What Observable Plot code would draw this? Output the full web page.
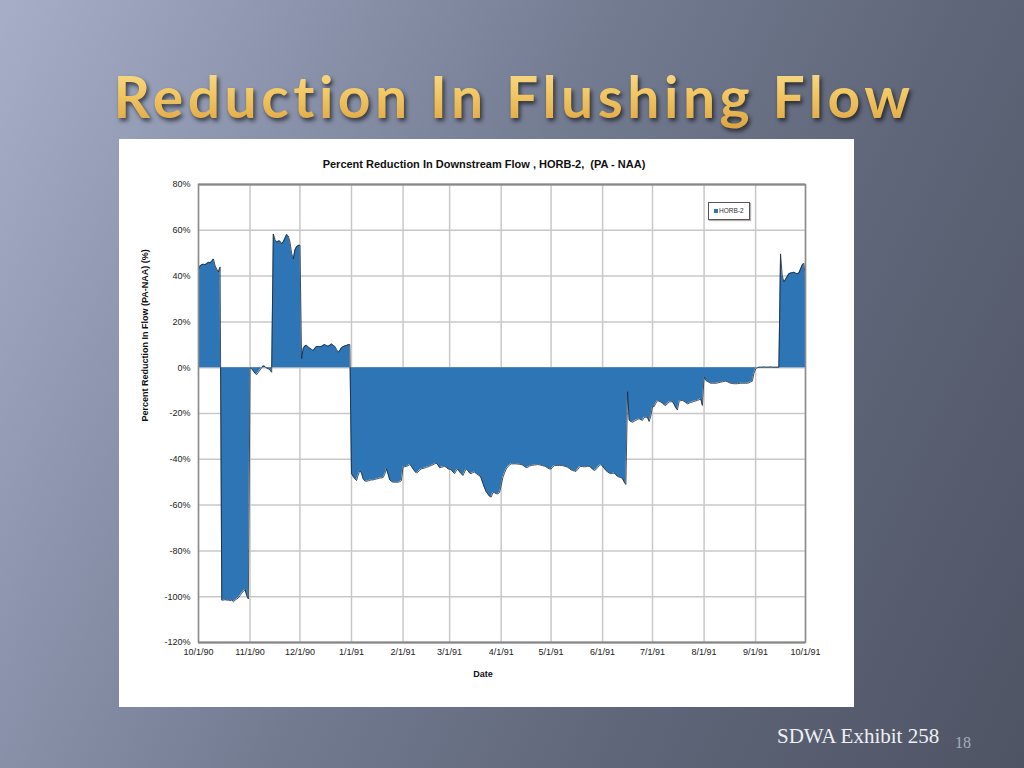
<!DOCTYPE html>
<html>
<head>
<meta charset="utf-8">
<script src="https://cdn.jsdelivr.net/npm/d3@7"></script>
<script src="https://cdn.jsdelivr.net/npm/@observablehq/plot@0.6"></script>
<style>
html,body{margin:0;padding:0;width:1024px;height:768px;overflow:hidden;}
body{position:relative;font-family:"Liberation Sans",Arial,sans-serif;
  background:linear-gradient(115deg,#a6afc7 0%,#8c95ad 22%,#737b91 45%,#5f6679 70%,#4e5464 100%);}
.ttl{position:absolute;left:0;top:61px;width:1024px;text-align:center;font-family:Lato,"Open Sans",sans-serif;
  font-size:57px;font-weight:bold;letter-spacing:4.5px;line-height:70px;text-indent:4px;}
#titleShadow{color:rgba(0,0,0,0);text-shadow:2px 3px 4px rgba(0,0,0,0.6);}
#title{background:linear-gradient(180deg,#f9e19a 0%,#f2c865 45%,#dca23f 100%);background-size:100% 70px;
  -webkit-background-clip:text;background-clip:text;color:transparent;}
#panel{position:absolute;left:119px;top:139px;width:735px;height:568px;background:#fff;}
#ctitle{position:absolute;left:0;top:18px;width:730px;text-align:center;font-weight:bold;font-size:11px;color:#111;line-height:14px;}
#chart{position:absolute;left:0;top:35px;}
#legend{position:absolute;left:589px;top:63px;width:40px;height:16px;border:1.5px solid #555;background:#fff;
  box-shadow:1px 1px 1px rgba(0,0,0,0.3);font-size:6.5px;color:#333;line-height:16px;}
#legend span.sw{display:inline-block;width:4px;height:4px;background:#2e75b6;margin:0 1px 0 5px;vertical-align:middle;}
#footer{position:absolute;left:777px;top:724px;font-family:"Liberation Serif","DejaVu Serif",serif;font-size:21px;color:#eef0f4;}
#page{position:absolute;left:955px;top:734px;font-family:"Liberation Serif","DejaVu Serif",serif;font-size:16px;color:#a7adba;}
</style>
</head>
<body>
<div id="titleShadow" class="ttl" aria-hidden="true">Reduction In Flushing Flow</div>
<div id="title" class="ttl">Reduction In Flushing Flow</div>
<div id="panel">
  <div id="ctitle">Percent Reduction In Downstream Flow , HORB-2,&nbsp; (PA - NAA)</div>
  <div id="chart"></div>
  <div id="legend"><span class="sw"></span>HORB-2</div>
</div>
<div id="footer">SDWA Exhibit 258</div>
<div id="page">18</div>
<script>
const seriesName = "HORB-2";
const yTickValues = [-120, -100, -80, -60, -40, -20, 0, 20, 40, 60, 80];
const xTickDates = ["1990-10-01","1990-11-01","1990-12-01","1991-01-01","1991-02-01","1991-03-01","1991-04-01",
  "1991-05-01","1991-06-01","1991-07-01","1991-08-01","1991-09-01","1991-10-01"];

const dates = [
"1990-10-01","1990-10-02","1990-10-03","1990-10-04","1990-10-05","1990-10-06","1990-10-07","1990-10-08","1990-10-09","1990-10-10",
"1990-10-11","1990-10-12","1990-10-13","1990-10-14","1990-10-15","1990-10-16","1990-10-17","1990-10-18","1990-10-19","1990-10-20",
"1990-10-21","1990-10-22","1990-10-23","1990-10-24","1990-10-25","1990-10-26","1990-10-27","1990-10-28","1990-10-29","1990-10-30","1990-10-31",
"1990-11-01","1990-11-02","1990-11-03","1990-11-04","1990-11-05","1990-11-06","1990-11-07","1990-11-08","1990-11-09","1990-11-10",
"1990-11-11","1990-11-12","1990-11-13","1990-11-14","1990-11-15","1990-11-16","1990-11-17","1990-11-18","1990-11-19","1990-11-20",
"1990-11-21","1990-11-22","1990-11-23","1990-11-24","1990-11-25","1990-11-26","1990-11-27","1990-11-28","1990-11-29","1990-11-30",
"1990-12-01","1990-12-02","1990-12-03","1990-12-04","1990-12-05","1990-12-06","1990-12-07","1990-12-08","1990-12-09","1990-12-10",
"1990-12-11","1990-12-12","1990-12-13","1990-12-14","1990-12-15","1990-12-16","1990-12-17","1990-12-18","1990-12-19","1990-12-20",
"1990-12-21","1990-12-22","1990-12-23","1990-12-24","1990-12-25","1990-12-26","1990-12-27","1990-12-28","1990-12-29","1990-12-30","1990-12-31",
"1991-01-01","1991-01-02","1991-01-03","1991-01-04","1991-01-05","1991-01-06","1991-01-07","1991-01-08","1991-01-09","1991-01-10",
"1991-01-11","1991-01-12","1991-01-13","1991-01-14","1991-01-15","1991-01-16","1991-01-17","1991-01-18","1991-01-19","1991-01-20",
"1991-01-21","1991-01-22","1991-01-23","1991-01-24","1991-01-25","1991-01-26","1991-01-27","1991-01-28","1991-01-29","1991-01-30","1991-01-31",
"1991-02-01","1991-02-02","1991-02-03","1991-02-04","1991-02-05","1991-02-06","1991-02-07","1991-02-08","1991-02-09","1991-02-10",
"1991-02-11","1991-02-12","1991-02-13","1991-02-14","1991-02-15","1991-02-16","1991-02-17","1991-02-18","1991-02-19","1991-02-20",
"1991-02-21","1991-02-22","1991-02-23","1991-02-24","1991-02-25","1991-02-26","1991-02-27","1991-02-28",
"1991-03-01","1991-03-02","1991-03-03","1991-03-04","1991-03-05","1991-03-06","1991-03-07","1991-03-08","1991-03-09","1991-03-10",
"1991-03-11","1991-03-12","1991-03-13","1991-03-14","1991-03-15","1991-03-16","1991-03-17","1991-03-18","1991-03-19","1991-03-20",
"1991-03-21","1991-03-22","1991-03-23","1991-03-24","1991-03-25","1991-03-26","1991-03-27","1991-03-28","1991-03-29","1991-03-30","1991-03-31",
"1991-04-01","1991-04-02","1991-04-03","1991-04-04","1991-04-05","1991-04-06","1991-04-07","1991-04-08","1991-04-09","1991-04-10",
"1991-04-11","1991-04-12","1991-04-13","1991-04-14","1991-04-15","1991-04-16","1991-04-17","1991-04-18","1991-04-19","1991-04-20",
"1991-04-21","1991-04-22","1991-04-23","1991-04-24","1991-04-25","1991-04-26","1991-04-27","1991-04-28","1991-04-29","1991-04-30",
"1991-05-01","1991-05-02","1991-05-03","1991-05-04","1991-05-05","1991-05-06","1991-05-07","1991-05-08","1991-05-09","1991-05-10",
"1991-05-11","1991-05-12","1991-05-13","1991-05-14","1991-05-15","1991-05-16","1991-05-17","1991-05-18","1991-05-19","1991-05-20",
"1991-05-21","1991-05-22","1991-05-23","1991-05-24","1991-05-25","1991-05-26","1991-05-27","1991-05-28","1991-05-29","1991-05-30","1991-05-31",
"1991-06-01","1991-06-02","1991-06-03","1991-06-04","1991-06-05","1991-06-06","1991-06-07","1991-06-08","1991-06-09","1991-06-10",
"1991-06-11","1991-06-12","1991-06-13","1991-06-14","1991-06-15","1991-06-16","1991-06-17","1991-06-18","1991-06-19","1991-06-20",
"1991-06-21","1991-06-22","1991-06-23","1991-06-24","1991-06-25","1991-06-26","1991-06-27","1991-06-28","1991-06-29","1991-06-30",
"1991-07-01","1991-07-02","1991-07-03","1991-07-04","1991-07-05","1991-07-06","1991-07-07","1991-07-08","1991-07-09","1991-07-10",
"1991-07-11","1991-07-12","1991-07-13","1991-07-14","1991-07-15","1991-07-16","1991-07-17","1991-07-18","1991-07-19","1991-07-20",
"1991-07-21","1991-07-22","1991-07-23","1991-07-24","1991-07-25","1991-07-26","1991-07-27","1991-07-28","1991-07-29","1991-07-30","1991-07-31",
"1991-08-01","1991-08-02","1991-08-03","1991-08-04","1991-08-05","1991-08-06","1991-08-07","1991-08-08","1991-08-09","1991-08-10",
"1991-08-11","1991-08-12","1991-08-13","1991-08-14","1991-08-15","1991-08-16","1991-08-17","1991-08-18","1991-08-19","1991-08-20",
"1991-08-21","1991-08-22","1991-08-23","1991-08-24","1991-08-25","1991-08-26","1991-08-27","1991-08-28","1991-08-29","1991-08-30","1991-08-31",
"1991-09-01","1991-09-02","1991-09-03","1991-09-04","1991-09-05","1991-09-06","1991-09-07","1991-09-08","1991-09-09","1991-09-10",
"1991-09-11","1991-09-12","1991-09-13","1991-09-14","1991-09-15","1991-09-16","1991-09-17","1991-09-18","1991-09-19","1991-09-20",
"1991-09-21","1991-09-22","1991-09-23","1991-09-24","1991-09-25","1991-09-26","1991-09-27","1991-09-28","1991-09-29","1991-09-30",
"1991-10-01"
];

const values = [
// Oct 1990
43,44.5,45,45.2,45,45.5,46,45.8,46.5,47.5,
44.5,43,41.8,44,-101.5,-101.5,-101.3,-101.5,-101.5,-101.7,
-101.5,-102.2,-101.5,-101,-100.5,-99.5,-98.5,-97.5,-97,-99.5,-101,
// Nov 1990
0,-0.5,-1.5,-2.5,-3,-2,-1,0,0.8,0.5,
-0.3,-0.5,-1,-2,58.4,56,54.8,55.3,55.3,54.1,
55,56.5,58.2,57.5,55,50,47.5,51.5,52.8,53.4,
// Dec 1990
53.5,4,8.5,9.5,9.8,9,8.5,8,7.5,8.5,
9.3,9.3,9.2,9.3,9.8,10.1,9.6,9.4,9.8,10.4,
9.8,9.3,8,6.8,7.5,8.7,9.2,9.5,9.7,10,10.1,
// Jan 1991
-46.3,-47.5,-48.5,-49.3,-47,-45,-46,-48.5,-49.5,-49.6,
-49.4,-49.2,-49,-49,-48.8,-48.6,-48.4,-48.2,-48.1,-48,
-46.5,-44.2,-46.5,-49,-49.7,-50,-50,-50,-50,-49.8,-49.3,
// Feb 1991
-43.4,-43.2,-43.1,-42.8,-42.3,-43,-44.2,-45.2,-46,-45.5,
-44.8,-44.2,-44,-43.8,-43.5,-43.3,-43,-42.7,-42.4,-42,
-41.7,-42.5,-43.7,-43.5,-43.3,-43.1,-43.5,-44.2,
// Mar 1991
-44.4,-44.6,-45.5,-46.3,-45,-44.2,-45.5,-46.3,-47.1,-45.5,
-44.2,-45,-46,-46.3,-45.8,-45.6,-46.2,-46.8,-47.1,-48.3,
-50.5,-52.5,-54.2,-55.2,-56.2,-56.5,-54.6,-54.6,-55,-55.1,-54.5,
// Apr 1991
-51.5,-48,-46,-44.3,-43.2,-42.6,-42,-42,-42,-42,
-42.1,-42.2,-42.3,-42.6,-43.1,-43.6,-43.5,-43,-42.7,-42.6,
-42.5,-42.4,-42.3,-42.4,-42.6,-42.8,-43,-43.3,-43.8,-44.2,
// May 1991
-44.2,-43.5,-42.8,-42.7,-42.7,-42.7,-42.7,-42.8,-43,-43.2,
-43.5,-44,-44.6,-44.9,-45.1,-45.3,-44.5,-43.4,-43.1,-43.2,
-43.3,-43.2,-43.1,-43.1,-43.6,-44.3,-44.9,-44.5,-43.6,-42.8,-42.3,
// Jun 1991
-43,-44,-44.9,-45.5,-46,-46.3,-46.2,-46,-46.8,-47.5,
-47.8,-48,-48.5,-50,-51,-10.5,-23,-23.5,-23.8,-23.4,
-23,-22.6,-22.3,-22.7,-23,-21.8,-21.6,-21.8,-23.5,-21,
// Jul 1991
-17,-17,-15.5,-14.4,-14.6,-15,-15.5,-16.2,-16.5,-15.7,
-15,-14.9,-14.8,-16,-17.5,-18.5,-14.6,-14.4,-14.3,-14.7,
-15.2,-15.8,-15.5,-15.2,-15,-14.7,-14.5,-14.3,-14,-13.6,-16.5,
// Aug 1991
-4.1,-5.5,-6,-6.4,-6.8,-6.8,-6.8,-6.8,-6.7,-6.5,
-6.3,-6.2,-6,-5.9,-6.1,-6.5,-6.8,-6.9,-7,-7,
-7,-6.9,-6.8,-6.8,-6.8,-6.8,-6.8,-6.6,-6.2,-5.9,-2.5,
// Sep 1991
-0.5,0,0.2,0.2,0.2,0.3,0.2,0.2,0.2,0.3,
0.2,0.2,0.2,0.2,0.2,49.7,40.3,37.5,38.5,39.8,
41,41.3,41.5,41.7,41.3,41,41.3,43,44.8,45.6,
// Oct 1991
39
];

const data = dates.map((d, i) => ({date: new Date(d + "T00:00:00Z"), value: values[i], series: seriesName}));
const xTicks = xTickDates.map(d => new Date(d + "T00:00:00Z"));
const fmt = d3.utcFormat("%-m/%-d/%y");

const chart = Plot.plot({
  width: 735,
  height: 526,
  marginLeft: 79,
  marginRight: 49,
  marginTop: 10,
  marginBottom: 58,
  x: {type: "utc", domain: [xTicks[0], xTicks[xTicks.length - 1]]},
  y: {domain: [-120, 80]},
  style: {fontFamily: "'Liberation Sans', Arial, sans-serif", fontSize: "9px", color: "#222", background: "#fff"},
  marks: [
    Plot.gridX(xTicks, {stroke: "#c8c8c8", strokeOpacity: 1, strokeWidth: 1.5}),
    Plot.gridY(yTickValues, {stroke: "#c8c8c8", strokeOpacity: 1, strokeWidth: 1.5}),
    Plot.areaY(data, {x: "date", y: "value", fill: "#2e75b6"}),
    Plot.lineY(data, {x: "date", y: "value", stroke: "#1b2633", strokeWidth: 0.8}),
    Plot.frame({stroke: "#8c8c8c", strokeWidth: 1.5}),
    Plot.ruleY([80, -120], {stroke: "#888", strokeWidth: 2}),
    Plot.axisX(xTicks, {tickFormat: fmt, tickSize: 0, tickPadding: 6, label: null, fill: "#222"}),
    Plot.axisY(yTickValues, {tickFormat: d => d + "%", tickSize: 0, tickPadding: 8, label: null, fill: "#222"}),
    Plot.text(["Date"], {frameAnchor: "bottom", dy: 34, dx: -19, fontWeight: "bold", fontSize: 9, fill: "#111"}),
    Plot.text(["Percent Reduction In Flow (PA-NAA) (%)"], {frameAnchor: "left", dx: -53, dy: 8, rotate: -90, fontWeight: "bold", fontSize: 9, fill: "#111"})
  ]
});
document.getElementById("chart").appendChild(chart);
</script>
</body>
</html>
